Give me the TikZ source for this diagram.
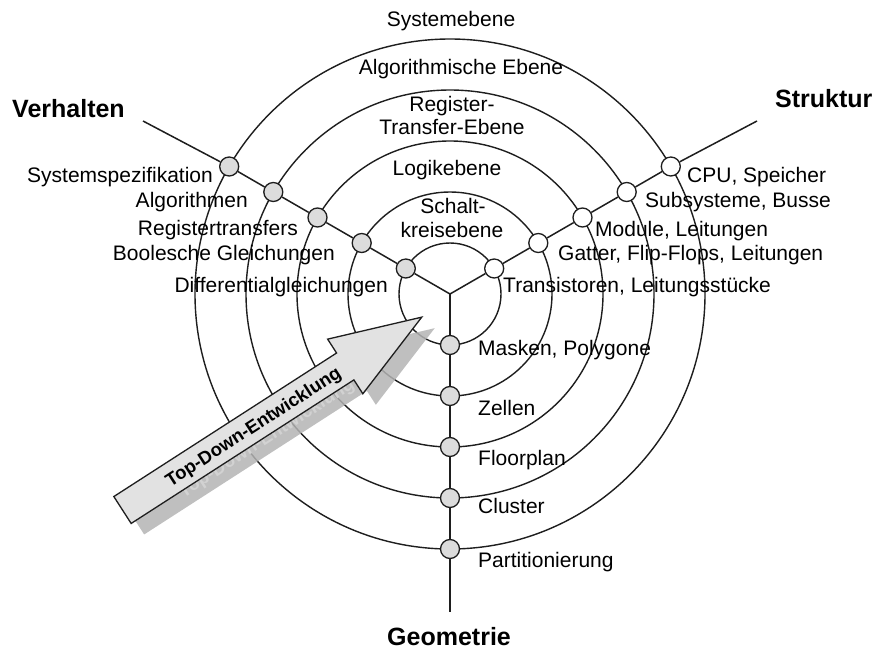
\documentclass[tikz,border=0pt]{standalone}
\usepackage{fontspec}
\setmainfont{Liberation Sans}
\usetikzlibrary{calc}
\definecolor{ink}{HTML}{1E1E1E}
\definecolor{dotgray}{HTML}{DCDCDC}
\definecolor{arrowfill}{HTML}{E2E2E2}
\definecolor{shadowgray}{HTML}{B4B4B4}
\definecolor{shadowtext}{HTML}{D2D2D2}
\tikzset{
  ring/.style={draw=ink, line width=1.4pt},
  axis/.style={draw=ink, line width=1.5pt},
  dotbase/.style={circle, draw=ink, line width=1.3pt, minimum size=19pt, inner sep=0pt},
  graydot/.style={dotbase, fill=dotgray},
  whitedot/.style={dotbase, fill=white},
  lbl/.style={font=\fontsize{21}{24}\selectfont, inner sep=0pt, text=black},
  lblL/.style={lbl, anchor=base east},
  lblR/.style={lbl, anchor=base west},
  lblC/.style={lbl, anchor=base},
  axislbl/.style={font=\fontsize{25}{28}\selectfont\bfseries, inner sep=0pt, anchor=base west},
  arrowtxt/.style={font=\fontsize{18.5}{20}\selectfont\bfseries, inner sep=0pt}
}
\begin{document}
\begin{tikzpicture}[x=1pt, y=-1pt]
\useasboundingbox (0,0) rectangle (875,650);
\fill[white] (0,0) rectangle (875,650);

% centre of the Y chart
\coordinate (Y) at (450,294);

% concentric abstraction levels
\foreach \r in {51,102,153,204,255}
  \draw[ring] (Y) circle[radius=\r pt];

% axis end points
\coordinate (Lend) at (143,121);
\coordinate (Rend) at (757,121);
\coordinate (Bend) at (450,612);

% behaviour axis (upper left)
\node[graydot] (l1) at (405.8,268.5) {};
\node[graydot] (l2) at (361.7,243) {};
\node[graydot] (l3) at (317.5,217.5) {};
\node[graydot] (l4) at (273.3,192) {};
\node[graydot] (l5) at (229.2,166.5) {};
% structure axis (upper right)
\node[whitedot] (r1) at (494.2,268.5) {};
\node[whitedot] (r2) at (538.3,243) {};
\node[whitedot] (r3) at (582.5,217.5) {};
\node[whitedot] (r4) at (626.7,192) {};
\node[whitedot] (r5) at (670.8,166.5) {};
% geometry axis (down)
\node[graydot] (b1) at (450,345) {};
\node[graydot] (b2) at (450,396) {};
\node[graydot] (b3) at (450,447) {};
\node[graydot] (b4) at (450,498) {};
\node[graydot] (b5) at (450,549) {};

\draw[axis] (Y) -- (l1) -- (l2) -- (l3) -- (l4) -- (l5) -- (Lend);
\draw[axis] (Y) -- (r1) -- (r2) -- (r3) -- (r4) -- (r5) -- (Rend);
\draw[axis] (Y) -- (b1) -- (b2) -- (b3) -- (b4) -- (b5) -- (Bend);

% axis titles
\node[axislbl] (tV) at (12,118) {Verhalten};
\node[axislbl] (tS) at (775,108) {Struktur};
\node[axislbl] (tG) at (387,645) {Geometrie};

% level names
\node[lblC] (e1) at (451,27) {Systemebene};
\node[lblC] (e2) at (461,75) {Algorithmische Ebene};
\node[lblC] (e3a) at (452,112) {Register-};
\node[lblC] (e3b) at (452,135) {Transfer-Ebene};
\node[lblC] (e4) at (447,175) {Logikebene};
\node[lblC] (e5a) at (453,213) {Schalt-};
\node[lblC] (e5b) at (452,237) {kreisebene};

% behaviour descriptions
\node[lblL] (dl5) at (213,182) {Systemspezifikation};
\node[lblL] (dl4) at (248,207) {Algorithmen};
\node[lblL] (dl3) at (298,235) {Registertransfers};
\node[lblL] (dl2) at (335,260) {Boolesche Gleichungen};
\node[lblL] (dl1) at (388,292) {Differentialgleichungen};

% structure descriptions
\node[lblR] (dr5) at (687,182) {CPU, Speicher};
\node[lblR] (dr4) at (645,207) {Subsysteme, Busse};
\node[lblR] (dr3) at (595,236) {Module, Leitungen};
\node[lblR] (dr2) at (558,260) {Gatter, Flip-Flops, Leitungen};
\node[lblR] (dr1) at (503,292) {Transistoren, Leitungsstücke};

% geometry descriptions
\node[lblR] (db1) at (478,355) {Masken, Polygone};
\node[lblR] (db2) at (478,415) {Zellen};
\node[lblR] (db3) at (478,465) {Floorplan};
\node[lblR] (db4) at (478,513) {Cluster};
\node[lblR] (db5) at (478,567) {Partitionierung};

% top-down arrow: shadow first, then the arrow itself
\begin{scope}[shift={(135.5,521)}, rotate=32.8]
  \fill[shadowgray, opacity=0.85] (0,-16) -- (265,-16) -- (265,-32.5) -- (356,0)
        -- (265,32.5) -- (265,16) -- (0,16) -- cycle;
  \node[arrowtxt, text=shadowtext, rotate=32.8] (sh) at (155,2) {Top-Down-Entwicklung};
\end{scope}
\begin{scope}[shift={(122.5,510)}, rotate=32.8]
  \filldraw[fill=arrowfill, draw=ink, line width=1.3pt, line join=miter]
        (0,-16) -- (265,-16) -- (265,-32.5) -- (356,0)
        -- (265,32.5) -- (265,16) -- (0,16) -- cycle;
  \node[arrowtxt, text=black, rotate=32.8] (td) at (155,2) {Top-Down-Entwicklung};
\end{scope}
\end{tikzpicture}
\end{document}
